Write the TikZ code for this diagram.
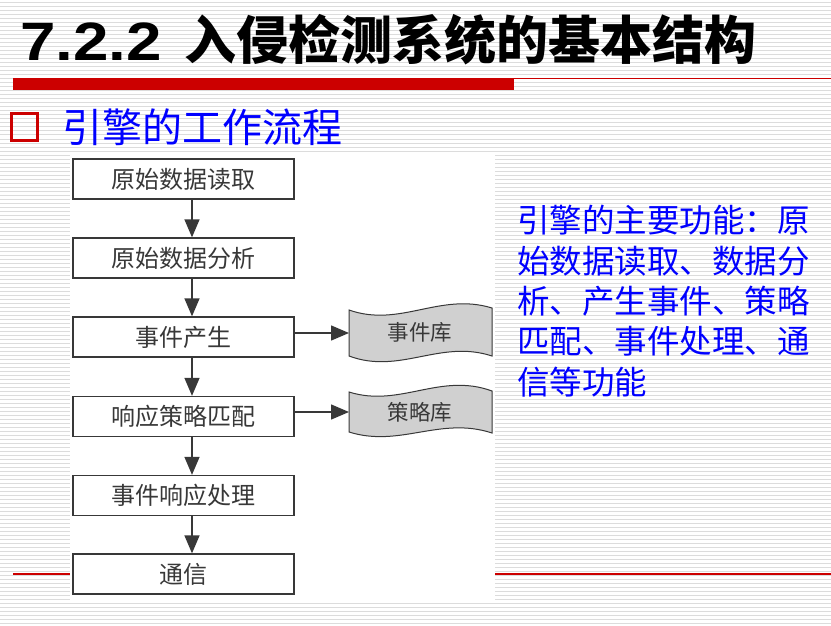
\documentclass[tikz,border=0pt]{standalone}
\usepackage{fontspec}
\setmainfont{Liberation Serif}
\newfontfamily\cjk{Noto Sans CJK SC}
\newfontfamily\arialb[FakeStretch=1.18]{Liberation Sans}
\usetikzlibrary{arrows.meta}
\definecolor{stripe}{HTML}{DCDCDC}
\definecolor{redbar}{HTML}{CC0000}
\definecolor{ink}{HTML}{383838}
\definecolor{docfill}{HTML}{D0D0D0}
\definecolor{bluetxt}{HTML}{0000FF}
\begin{document}
\begin{tikzpicture}[x=1pt,y=-1pt,
  box/.style={draw=ink, line width=1.3pt, fill=white, minimum width=221pt, minimum height=40pt, inner sep=0pt, font=\cjk\fontsize{24}{28}\selectfont, text=ink},
  flow/.style={draw=ink, line width=1.5pt, -{Triangle[length=18pt,width=15pt]}},
  doc/.style={draw=ink, line width=1pt, fill=docfill},
  doclabel/.style={inner sep=0pt, font=\cjk\fontsize{21.5}{26}\selectfont, text=ink},
  rtext/.style={anchor=west, inner sep=0pt, text=bluetxt, font=\cjk\fontsize{32.5}{40}\selectfont},
]
\useasboundingbox (0,0) rectangle (831,626);
\fill[white] (0,0) rectangle (831,626);
\foreach \k in {0,...,155} \draw[stripe, line width=1pt] (0,3+4*\k) -- (831,3+4*\k);
% red rules
\draw[redbar, line width=1.3pt] (13,574) -- (831,574);
\fill[redbar] (13,78) rectangle (514,90);
\draw[redbar, line width=1.5pt] (514,78.75) -- (831,78.75);
% white picture background
\fill[white] (70,155) rectangle (495,600);
% bullet
\draw[redbar, line width=3pt] (11.5,113.5) rectangle (37.5,140.5);
% title
\node[anchor=base west, inner sep=0pt, font=\arialb\bfseries\fontsize{54}{60}\selectfont] (tnum) at (20,61) {7.2.2};
\node[anchor=west, inner sep=0pt, font=\cjk\bfseries\fontsize{52}{60}\selectfont] (ttl) at (184,40) {入侵检测系统的基本结构};
\node[anchor=west, inner sep=0pt, text=bluetxt, font=\cjk\fontsize{40}{48}\selectfont] (sub) at (62,127) {引擎的工作流程};
% flow boxes
\node[box] (b1) at (183.5,179) {原始数据读取};
\node[box] (b2) at (183.5,258) {原始数据分析};
\node[box] (b3) at (183.5,337) {事件产生};
\node[box] (b4) at (183.5,416.5) {响应策略匹配};
\node[box] (b5) at (183.5,495.5) {事件响应处理};
\node[box] (b6) at (183.5,574) {通信};
\coordinate (ax) at (192,0);
\draw[flow] (b1.south -| ax) -- (b2.north -| ax);
\draw[flow] (b2.south -| ax) -- (b3.north -| ax);
\draw[flow] (b3.south -| ax) -- (b4.north -| ax);
\draw[flow] (b4.south -| ax) -- (b5.north -| ax);
\draw[flow] (b5.south -| ax) -- (b6.north -| ax);
% documents
\draw[doc] (349,310) .. controls (400,328) and (440,292) .. (492,308) -- (492,356)
  .. controls (440,339) and (400,375) .. (349,356) -- cycle;
\draw[doc] (349,392) .. controls (400,408) and (440,372) .. (492,391) -- (492,433)
  .. controls (440,416) and (400,448) .. (349,432) -- cycle;
\node[doclabel] (d1) at (420,332) {事件库};
\node[doclabel] (d2) at (420,412) {策略库};
\coordinate (d1w) at (349,333);
\coordinate (d2w) at (349,412);
\draw[flow] (b3.east |- d1w) -- (d1w);
\draw[flow] (b4.east |- d2w) -- (d2w);
% right text
\node[rtext] (r1) at (517,220) {引擎的主要功能：原};
\node[rtext] (r2) at (517,261) {始数据读取、数据分};
\node[rtext] (r3) at (517,301) {析、产生事件、策略};
\node[rtext] (r4) at (517,341) {匹配、事件处理、通};
\node[rtext] (r5) at (517,382) {信等功能};
\end{tikzpicture}
\end{document}
